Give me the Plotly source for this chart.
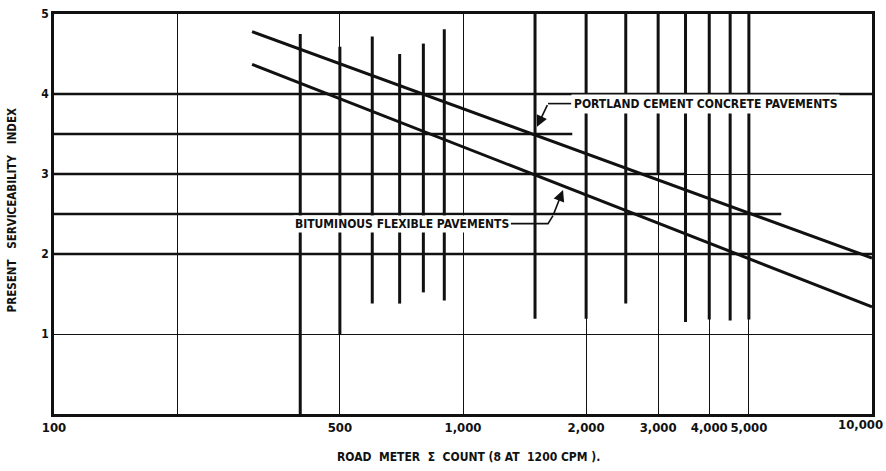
import math
import plotly.graph_objects as go

# ---------------- data ----------------
# vertical range bars (road meter count, PSI low, PSI high)
bar_counts = [400, 500, 600, 700, 800, 900, 1500, 2000, 2500, 3000, 3500, 4000, 4500, 5000]
bar_low    = [0.0, 1.0, 1.38, 1.38, 1.52, 1.42, 1.19, 1.19, 1.38, 3.0, 1.15, 1.18, 1.17, 1.18]
bar_high   = [4.75, 4.59, 4.72, 4.50, 4.63, 4.81, 5.0, 5.0, 5.0, 5.0, 5.0, 5.0, 5.0, 5.0]

# horizontal PSI level lines (start at count 100)
psi_levels   = [4.0, 3.5, 3.0, 2.5, 2.0]
psi_line_end = [10000, 1850, 3500, 6000, 10000]

# regression lines
line_x          = [305, 10000]
portland_y      = [4.78, 1.95]
bituminous_y    = [4.37, 1.34]

# axes ticks
x_tickvals = [100, 200, 500, 1000, 2000, 3000, 4000, 5000, 10000]
x_ticktext = ["100", "", "500", "1,000", "2,000", "3,000", "4,000", "5,000", ""]
x_last_label = "10,000"
y_tickvals = [1, 2, 3, 4, 5]
y_ticktext = ["1", "2", "3", "4", "5"]

# label leaders (count, PSI)
portland_leader_x = [1840, 1614]
portland_leader_y = [3.88, 3.88]
portland_tip = (1517, 3.59)
bitum_leader_x = [1309, 1614, 1660]
bitum_leader_y = [2.38, 2.38, 2.48]
bitum_tip = (1756, 2.80)

FONT = "Liberation Sans Narrow, DejaVu Sans Condensed, Arial Narrow, DejaVu Sans"
BLACK = "#111111"

fig = go.Figure()

# vertical bars
vx, vy = [], []
for c, lo, hi in zip(bar_counts, bar_low, bar_high):
    vx += [c, c, None]
    vy += [lo, hi, None]
fig.add_trace(go.Scatter(x=vx, y=vy, mode="lines",
                         line=dict(color=BLACK, width=3), hoverinfo="skip"))

# horizontal level lines
hx, hy = [], []
for lv, e in zip(psi_levels, psi_line_end):
    hx += [100, e, None]
    hy += [lv, lv, None]
fig.add_trace(go.Scatter(x=hx, y=hy, mode="lines",
                         line=dict(color=BLACK, width=2.6), hoverinfo="skip"))

# regression lines
fig.add_trace(go.Scatter(x=line_x, y=portland_y, mode="lines",
                         line=dict(color=BLACK, width=3), hoverinfo="skip"))
fig.add_trace(go.Scatter(x=line_x, y=bituminous_y, mode="lines",
                         line=dict(color=BLACK, width=3), hoverinfo="skip"))

# leader lines
fig.add_trace(go.Scatter(x=portland_leader_x, y=portland_leader_y, mode="lines",
                         line=dict(color=BLACK, width=1.6), hoverinfo="skip"))
fig.add_trace(go.Scatter(x=bitum_leader_x, y=bitum_leader_y, mode="lines",
                         line=dict(color=BLACK, width=1.6), hoverinfo="skip"))

annotations = [
    dict(x=math.log10(portland_leader_x[0]), y=portland_leader_y[0], xref="x", yref="y",
         text="PORTLAND CEMENT CONCRETE PAVEMENTS", showarrow=False,
         xanchor="left", yanchor="middle", bgcolor="white", borderpad=2,
         font=dict(family=FONT, size=12, color=BLACK, weight="bold")),
    dict(x=math.log10(bitum_leader_x[0]), y=bitum_leader_y[0], xref="x", yref="y",
         text="BITUMINOUS FLEXIBLE PAVEMENTS", showarrow=False,
         xanchor="right", yanchor="middle", bgcolor="white", borderpad=1,
         font=dict(family=FONT, size=12, color=BLACK, weight="bold")),
    dict(x=math.log10(portland_tip[0]), y=portland_tip[1], xref="x", yref="y",
         ax=math.log10(portland_leader_x[1]), ay=portland_leader_y[1], axref="x", ayref="y",
         text="", showarrow=True, arrowhead=2, arrowsize=1.4, arrowwidth=1.6, arrowcolor=BLACK),
    dict(x=math.log10(bitum_tip[0]), y=bitum_tip[1], xref="x", yref="y",
         ax=math.log10(bitum_leader_x[2]), ay=bitum_leader_y[2], axref="x", ayref="y",
         text="", showarrow=True, arrowhead=2, arrowsize=1.4, arrowwidth=1.6, arrowcolor=BLACK),
    dict(x=1, y=0, xref="paper", yref="paper", xshift=13, yshift=-10,
         text=x_last_label, showarrow=False, xanchor="right", yanchor="middle",
         font=dict(family=FONT, size=13, color=BLACK, weight="bold")),
    dict(x=0.507, y=0, xref="paper", yref="paper", yshift=-43,
         text="ROAD\u00a0\u00a0METER\u00a0\u00a0Σ\u00a0\u00a0COUNT (8 AT\u00a0\u00a01200 CPM ).",
         showarrow=False, xanchor="center", yanchor="middle",
         font=dict(family=FONT, size=12, color=BLACK, weight="bold")),
    dict(x=0, y=0.509, xref="paper", yref="paper", xshift=-42,
         text="PRESENT\u00a0\u00a0\u00a0SERVICEABILITY\u00a0\u00a0\u00a0INDEX",
         showarrow=False, textangle=-90, xanchor="center", yanchor="middle",
         font=dict(family=FONT, size=11.5, color=BLACK, weight="bold")),
]

fig.update_layout(
    width=886, height=471,
    margin=dict(l=54, r=14, t=7, b=57),
    paper_bgcolor="white", plot_bgcolor="white",
    showlegend=False,
    annotations=annotations,
    xaxis=dict(type="log", range=[2, 4], tickvals=x_tickvals, ticktext=x_ticktext,
               showgrid=True, gridcolor=BLACK, gridwidth=1.2,
               showline=True, linecolor=BLACK, linewidth=2.5, mirror=True,
               ticks="", zeroline=False, ticklabeloverflow="allow",
               tickfont=dict(family=FONT, size=13, color=BLACK, weight="bold")),
    yaxis=dict(range=[0, 5], tickvals=y_tickvals, ticktext=y_ticktext,
               showgrid=True, gridcolor=BLACK, gridwidth=1.2,
               showline=True, linecolor=BLACK, linewidth=2.5, mirror=True,
               ticks="", zeroline=False,
               tickfont=dict(family=FONT, size=12, color=BLACK, weight="bold")),
)

fig.write_html("out.html")
